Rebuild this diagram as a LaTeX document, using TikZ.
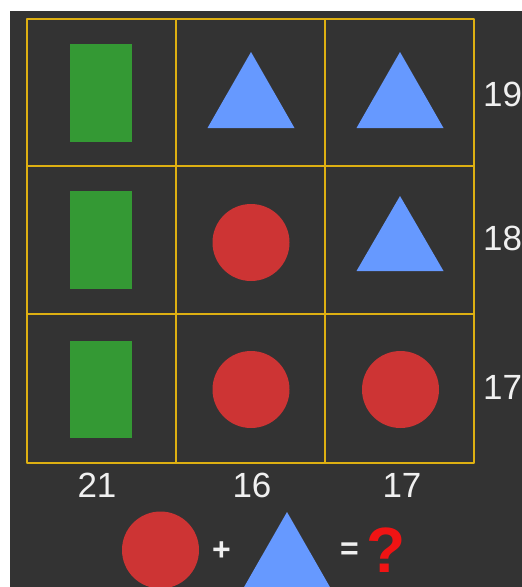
\documentclass[tikz,border=0pt]{standalone}
\usepackage{fontspec}
\setmainfont{Liberation Sans}
\definecolor{board}{RGB}{51,51,51}
\definecolor{gold}{RGB}{222,176,18}
\definecolor{leaf}{RGB}{52,153,52}
\definecolor{sky}{RGB}{102,153,255}
\definecolor{brick}{RGB}{205,52,52}
\definecolor{chalk}{RGB}{240,240,240}
\definecolor{alarm}{RGB}{240,20,20}

\begin{document}
\begin{tikzpicture}[x=1pt,y=-1pt,line cap=round,line join=round,
  gridline/.style={draw=gold,line width=1.8pt},
  bar/.style={fill=leaf},
  tri/.style={fill=sky},
  disc/.style={fill=brick},
  sum/.style={text=chalk,inner sep=0pt,font=\fontsize{35}{40}\selectfont},
  sign/.style={text=chalk,inner sep=0pt,font=\fontsize{32}{36}\selectfont\bfseries}]
  \useasboundingbox (0,0) rectangle (522,587);
  \fill[white] (0,0) rectangle (522,587);
  \fill[board] (10,11) rectangle (522,587);
  % grid
  \draw[gridline] (27,19) rectangle (474,463);
  \draw[gridline] (176,19) -- (176,463);
  \draw[gridline] (325,19) -- (325,463);
  \draw[gridline] (27,166) -- (474,166);
  \draw[gridline] (27,314) -- (474,314);
  % column one
  \fill[bar] (70,44) rectangle (132,142);
  \fill[bar] (70,191) rectangle (132,289);
  \fill[bar] (70,341) rectangle (132,438);
  % column two
  \fill[tri] (251,52) -- (294.5,128) -- (207.5,128) -- cycle;
  \fill[disc] (251,242.5) circle (38.5);
  \fill[disc] (251,389.5) circle (38.5);
  % column three
  \fill[tri] (400,52) -- (443.5,128) -- (356.5,128) -- cycle;
  \fill[tri] (400,196) -- (443.5,271) -- (356.5,271) -- cycle;
  \fill[disc] (400.5,389.5) circle (38.5);
  % sums
  \node[sum,anchor=west] (r1) at (483,94.5) {19};
  \node[sum,anchor=west] (r2) at (483,238.5) {18};
  \node[sum,anchor=west] (r3) at (483,387) {17};
  \node[sum] (c1) at (97,485) {21};
  \node[sum] (c2) at (252,485) {16};
  \node[sum] (c3) at (402,485) {17};
  % question
  \fill[disc] (160.5,550) circle (38.5);
  \node[sign] (plus) at (221.5,551.5) {+};
  \fill[tri] (287,512) -- (330.5,588) -- (243.5,588) -- cycle;
  \node[sign] (eq) at (349.5,551) {=};
  \node[inner sep=0pt,text=alarm,font=\fontsize{64}{70}\selectfont\bfseries] (qm) at (386,550.5) {?};
\end{tikzpicture}
\end{document}
